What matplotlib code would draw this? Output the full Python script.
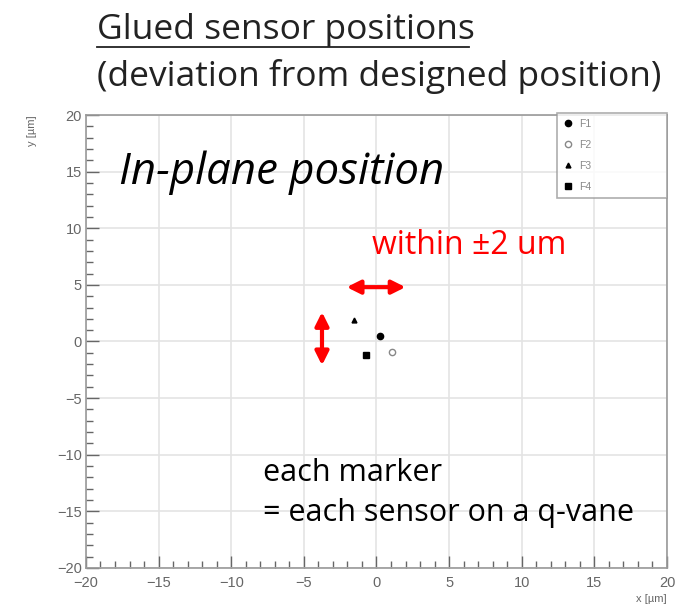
import matplotlib.pyplot as plt
from matplotlib.ticker import MultipleLocator

# sensor deviations from designed position [um]
sensors = ["F1", "F2", "F3", "F4"]
dx = [0.25, 1.05, -1.55, -0.75]
dy = [0.5, -0.9, 1.9, -1.2]
markers = ["o", "o", "^", "s"]
filled = [True, False, True, True]

TEXT_FONT = ["Open Sans", "DejaVu Sans"]
AXIS_FONT = ["Liberation Sans", "DejaVu Sans"]
GREY = "#666666"

fig = plt.figure(figsize=(6.82, 6.07), dpi=100)
ax = fig.add_axes([0.126, 0.0643, 0.852, 0.7462])

ax.set_xlim(-20, 20)
ax.set_ylim(-20, 20)
ax.xaxis.set_major_locator(MultipleLocator(5))
ax.yaxis.set_major_locator(MultipleLocator(5))
ax.xaxis.set_minor_locator(MultipleLocator(1))
ax.yaxis.set_minor_locator(MultipleLocator(1))
ax.grid(True, which="major", color="#e4e4e4", lw=1.2)
ax.set_axisbelow(True)
ax.tick_params(which="both", direction="in", top=False, right=False,
               colors=GREY, labelsize=10.5, pad=3)
ax.tick_params(axis="x", which="major", pad=6)
ax.tick_params(which="major", length=9, width=1)
ax.tick_params(which="minor", length=5, width=1)
for lab in ax.get_xticklabels() + ax.get_yticklabels():
    lab.set_family(AXIS_FONT)
for sp in ax.spines.values():
    sp.set_color("#999999")
    sp.set_linewidth(1.2)

ax.set_xlabel("x [µm]", fontsize=8, color=GREY, family=AXIS_FONT)
ax.xaxis.set_label_coords(1.0, -0.058)
ax.xaxis.label.set_horizontalalignment("right")
ax.set_ylabel("y [µm]", fontsize=8, color=GREY, family=AXIS_FONT)
ax.yaxis.set_label_coords(-0.085, 1.0)
ax.yaxis.label.set_horizontalalignment("right")

for name, x, y, m, f in zip(sensors, dx, dy, markers, filled):
    ax.plot(x, y, ls="none", marker=m, ms=4.5 if m != "^" else 3.5,
            mfc="black" if f else "white",
            mec="black" if f else "#888888", mew=1, label=name)

leg = ax.legend(loc="upper left", bbox_to_anchor=(0.81, 1.005, 0.19, 0),
                mode="expand", frameon=True, fancybox=False,
                edgecolor="#999999", borderaxespad=0, handlelength=1,
                handletextpad=0.6, labelspacing=1.05, borderpad=0.6,
                prop={"family": AXIS_FONT, "size": 7.5})
leg.get_frame().set_linewidth(1.2)
for t in leg.get_texts():
    t.set_color("#888888")

# red arrows showing +-2 um range
arrow = dict(arrowstyle="<|-|>", color="red", lw=3,
             mutation_scale=20, shrinkA=0, shrinkB=0)
ax.annotate("", xy=(-2.05, 4.8), xytext=(2.0, 4.8), arrowprops=arrow)
ax.annotate("", xy=(-3.75, 2.6), xytext=(-3.75, -2.1), arrowprops=arrow)
ax.text(-0.3, 8.5, "within ±2 um", color="red", fontsize=23,
        family=TEXT_FONT, va="center", ha="left")

ax.text(-17.7, 14.9, "In-plane position", fontsize=31.5, style="italic",
        family=TEXT_FONT, va="center", ha="left")
ax.text(-7.8, -13.4, "each marker\n= each sensor on a q-vane", fontsize=22,
        family=TEXT_FONT, va="center", ha="left", linespacing=1.45)

fig.text(97 / 682, 1 - 30 / 607, "Glued sensor positions", fontsize=25.5,
         family=TEXT_FONT, va="center", ha="left", color="#222222")
fig.text(97 / 682, 1 - 77 / 607, "(deviation from designed position)",
         fontsize=25.5, family=TEXT_FONT, va="center", ha="left",
         color="#222222")
fig.add_artist(plt.Line2D([97 / 682, 469 / 682], [1 - 47 / 607, 1 - 47 / 607],
                          transform=fig.transFigure, color="#222222", lw=1.3))

fig.savefig("out.png", dpi=100)
